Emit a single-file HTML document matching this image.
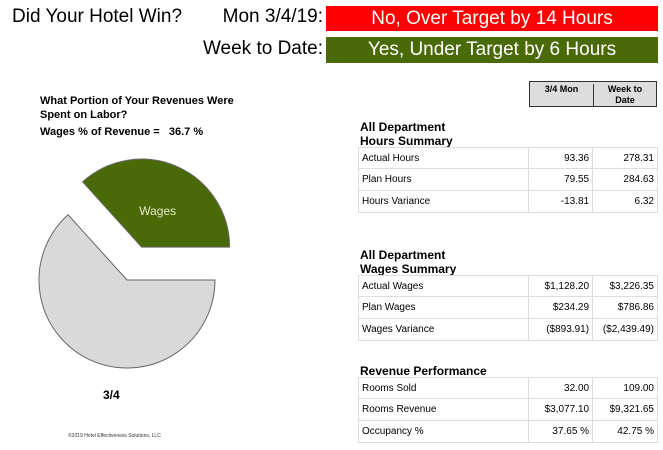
<!DOCTYPE html>
<html><head><meta charset="utf-8"><style>
body{margin:0;width:663px;height:450px;background:#fff;font-family:"Liberation Sans",Arial,sans-serif;position:relative;overflow:hidden;color:#000}
.a{position:absolute;white-space:nowrap}
.big{font-size:19px}
.box{position:absolute;left:326px;width:332px;height:25px;color:#fff;font-size:19px;font-weight:bold;text-align:center;line-height:25px}
table{position:absolute;left:358px;width:300px;border-collapse:collapse;font-size:10px}
td{border:1px solid #ddd;height:20px;vertical-align:top;padding:5px 3px 0 3px;box-sizing:border-box}
td.n{text-align:right}
.t{font-size:12px;font-weight:bold;line-height:14px}
</style></head><body>
<div class="a big" style="left:12px;top:6px">Did Your Hotel Win?</div>
<div class="a big" style="right:340px;top:6px">Mon 3/4/19:</div>
<div class="a big" style="right:340px;top:38px">Week to Date:</div>
<div class="box" style="top:6px;background:#f00;font-weight:normal">No, Over Target by 14 Hours</div>
<div class="box" style="top:37px;height:26px;line-height:26px;background:#4a6a07;font-weight:normal">Yes, Under Target by 6 Hours</div>

<div class="a" style="left:40px;top:94px;font-size:11px;font-weight:bold;line-height:14px">What Portion of Your Revenues Were<br>Spent on Labor?</div>
<div class="a" style="left:40px;top:126px;font-size:11px;font-weight:bold">Wages % of Revenue = &nbsp; 36.7 %</div>

<svg class="a" style="left:0;top:150px" width="260" height="300">
<g id="pie" transform="translate(0,-150)"></g>
</svg>
<div class="a" style="left:103px;top:388px;font-size:12px;font-weight:bold">3/4</div>
<div class="a" style="left:68px;top:433px;font-size:5px;color:#333">©2019 Hotel Effectiveness Solutions, LLC</div>

<div class="a" style="left:529px;top:81px;width:128px;height:26px;background:#ddd;border:1px solid #333;box-sizing:border-box;font-size:9px;font-weight:bold">
<div class="a" style="left:0;top:2px;width:63px;text-align:center;border-right:1px solid #333;height:22px">3/4 Mon</div>
<div class="a" style="left:64px;top:2px;width:62px;text-align:center;line-height:11px">Week to<br>Date</div>
</div>

<div class="a t" style="left:360px;top:120px">All Department<br>Hours Summary</div>
<table style="top:147px">
<colgroup><col style="width:171px"><col style="width:64px"><col style="width:65px"></colgroup>
<tr style="height:21px"><td>Actual Hours</td><td class="n">93.36</td><td class="n">278.31</td></tr>
<tr style="height:22px"><td>Plan Hours</td><td class="n">79.55</td><td class="n">284.63</td></tr>
<tr style="height:22px"><td>Hours Variance</td><td class="n">-13.81</td><td class="n">6.32</td></tr>
</table>

<div class="a t" style="left:360px;top:248px">All Department<br>Wages Summary</div>
<table style="top:275px">
<colgroup><col style="width:171px"><col style="width:64px"><col style="width:65px"></colgroup>
<tr style="height:21px"><td>Actual Wages</td><td class="n">$1,128.20</td><td class="n">$3,226.35</td></tr>
<tr style="height:22px"><td>Plan Wages</td><td class="n">$234.29</td><td class="n">$786.86</td></tr>
<tr style="height:22px"><td>Wages Variance</td><td class="n">($893.91)</td><td class="n">($2,439.49)</td></tr>
</table>

<div class="a t" style="left:360px;top:364px">Revenue Performance</div>
<table style="top:377px">
<colgroup><col style="width:171px"><col style="width:64px"><col style="width:65px"></colgroup>
<tr style="height:21px"><td>Rooms Sold</td><td class="n">32.00</td><td class="n">109.00</td></tr>
<tr style="height:22px"><td>Rooms Revenue</td><td class="n">$3,077.10</td><td class="n">$9,321.65</td></tr>
<tr style="height:22px"><td>Occupancy %</td><td class="n">37.65 %</td><td class="n">42.75 %</td></tr>
</table>

<script>
const sliceLabels = ["Wages", ""];
const sliceValues = [36.7, 63.3];
const sliceColors = ["#4a6a07", "#d9d9d9"];
const sliceExplode = [36, 0];
(function(){
  const ns="http://www.w3.org/2000/svg";
  const g=document.getElementById('pie');
  const cx=127, cy=280, r=88;
  const total=sliceValues.reduce((a,b)=>a+b,0);
  let start=0;
  sliceValues.forEach((v,i)=>{
    const sweep=v/total*360;
    const mid=(start+sweep/2)*Math.PI/180;
    const ox=cx+sliceExplode[i]*Math.cos(mid), oy=cy-sliceExplode[i]*Math.sin(mid);
    const a0=start*Math.PI/180, a1=(start+sweep)*Math.PI/180;
    const x0=ox+r*Math.cos(a0), y0=oy-r*Math.sin(a0);
    const x1=ox+r*Math.cos(a1), y1=oy-r*Math.sin(a1);
    const p=document.createElementNS(ns,'path');
    p.setAttribute('d',`M${ox},${oy} L${x0},${y0} A${r},${r} 0 ${sweep>180?1:0} 0 ${x1},${y1} Z`);
    p.setAttribute('fill',sliceColors[i]);
    p.setAttribute('stroke','#666');
    p.setAttribute('stroke-width','1');
    
    
    g.appendChild(p);
    if(sliceLabels[i]){
      const t=document.createElementNS(ns,'text');
      t.setAttribute('x',ox+0.45*r*Math.cos(mid));
      t.setAttribute('y',oy-0.45*r*Math.sin(mid)+4);
      t.setAttribute('text-anchor','middle');
      t.setAttribute('fill','#e8e8c8');
      t.setAttribute('font-size','12');
      t.setAttribute('font-family','Liberation Sans, sans-serif');
      t.textContent=sliceLabels[i];
      
      
      g.appendChild(t);
    }
    start+=sweep;
  });
})();
</script>
</body></html>
